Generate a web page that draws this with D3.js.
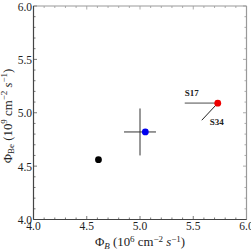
<!DOCTYPE html>
<html lang="en">
<head>
    <meta charset="UTF-8">
    <title>Phi_Be vs Phi_B</title>
    <style>
        body { margin: 0; padding: 0; background: #fff; }
        svg { display: block; }
        text { font-family: 'Liberation Serif', 'DejaVu Serif', serif; fill: #222; }
    </style>
</head>
<body>
    <svg width="251" height="251"></svg>
    <script src="https://d3js.org/d3.v7.min.js"></script>
    <script>
        // data
        const models = ["black", "blue", "red"];
        const phiB = [4.61, 5.05, 5.73];
        const phiBe = [4.56, 4.82, 5.09];
        const dotColors = ["#000000", "#0000ee", "#ee0000"];

        // measurement with error cross
        const measX = 5.0, measY = 4.82, errX = 0.15, errY = 0.22;

        // sensitivity arrows from the red point
        const arrowLabels = ["S17", "S34"];
        const arrowEndX = [5.42, 5.58];
        const arrowEndY = [5.09, 4.93];
        const arrowColors = ["#999", "#222"];

        const xTicks = [4.0, 4.5, 5.0, 5.5, 6.0];
        const yTicks = [4.0, 4.5, 5.0, 5.5, 6.0];

        const svg = d3.select("svg");
        const pL = 33.5, pR = 246.5, pT = 6, pB = 219.5;

        const x = d3.scaleLinear().domain([4, 6]).range([pL, pR]);
        const y = d3.scaleLinear().domain([4, 6]).range([pB, pT]);

        // minor + major ticks, inward on all four sides
        const minor = d3.range(4, 6.001, 0.1);
        const tk = svg.append("g").attr("stroke-width", 0.8);
        minor.forEach(v => {
            const isMajor = Math.abs(v * 2 - Math.round(v * 2)) < 1e-6;
            const len = isMajor ? 3.5 : 2;
            tk.append("line").attr("x1", x(v)).attr("x2", x(v)).attr("y1", pB).attr("y2", pB - len).attr("stroke", "#555");
            tk.append("line").attr("x1", x(v)).attr("x2", x(v)).attr("y1", pT).attr("y2", pT + len).attr("stroke", "#999");
            tk.append("line").attr("y1", y(v)).attr("y2", y(v)).attr("x1", pL).attr("x2", pL + len).attr("stroke", "#555");
            tk.append("line").attr("y1", y(v)).attr("y2", y(v)).attr("x1", pR).attr("x2", pR - len).attr("stroke", "#999");
        });

        // frame
        svg.append("line").attr("x1", pL).attr("x2", pR).attr("y1", pT).attr("y2", pT).attr("stroke", "#999").attr("stroke-width", 1.2);
        svg.append("line").attr("x1", pR).attr("x2", pR).attr("y1", pT).attr("y2", pB).attr("stroke", "#999").attr("stroke-width", 1.2);
        svg.append("line").attr("x1", pL).attr("x2", pR).attr("y1", pB).attr("y2", pB).attr("stroke", "#444").attr("stroke-width", 1.2);
        svg.append("line").attr("x1", pL).attr("x2", pL).attr("y1", pT).attr("y2", pB).attr("stroke", "#444").attr("stroke-width", 1.2);

        // tick labels
        svg.append("g").selectAll("text").data(xTicks).enter().append("text")
            .attr("x", d => x(d)).attr("y", pB + 10)
            .attr("text-anchor", "middle").attr("font-size", 11.5)
            .text(d => d.toFixed(1));
        svg.append("g").selectAll("text").data(yTicks).enter().append("text")
            .attr("x", pL - 1.5).attr("y", d => y(d) + 4.5)
            .attr("text-anchor", "end").attr("font-size", 11.5)
            .text(d => d.toFixed(1));

        // axis titles
        const xt = svg.append("text").attr("x", 140).attr("y", 246)
            .attr("text-anchor", "middle").attr("font-size", 12.8);
        xt.append("tspan").text("Φ");
        xt.append("tspan").attr("font-size", 9).attr("font-style", "italic").attr("dy", 2.5).text("B");
        xt.append("tspan").attr("dy", -2.5).text(" (10");
        xt.append("tspan").attr("font-size", 9).attr("dy", -4.5).text("6");
        xt.append("tspan").attr("dy", 4.5).text(" cm");
        xt.append("tspan").attr("font-size", 9).attr("dy", -4.5).text("−2");
        xt.append("tspan").attr("dy", 4.5).attr("font-style", "italic").text(" s");
        xt.append("tspan").attr("font-size", 9).attr("dy", -4.5).text("−1");
        xt.append("tspan").attr("dy", 4.5).text(")");

        const yt = svg.append("text").attr("transform", "translate(11.5,116) rotate(-90)")
            .attr("text-anchor", "middle").attr("font-size", 12.8);
        yt.append("tspan").text("Φ");
        yt.append("tspan").attr("font-size", 9).attr("dy", 2.5).text("Be");
        yt.append("tspan").attr("dy", -2.5).text(" (10");
        yt.append("tspan").attr("font-size", 9).attr("dy", -4.5).text("9");
        yt.append("tspan").attr("dy", 4.5).text(" cm");
        yt.append("tspan").attr("font-size", 9).attr("dy", -4.5).text("−2");
        yt.append("tspan").attr("dy", 4.5).attr("font-style", "italic").text(" s");
        yt.append("tspan").attr("font-size", 9).attr("dy", -4.5).text("−1");
        yt.append("tspan").attr("dy", 4.5).text(")");

        // error cross
        svg.append("line").attr("x1", x(measX - errX)).attr("x2", x(measX + errX))
            .attr("y1", y(measY)).attr("y2", y(measY)).attr("stroke", "#333").attr("stroke-width", 1);
        svg.append("line").attr("x1", x(measX)).attr("x2", x(measX))
            .attr("y1", y(measY - errY)).attr("y2", y(measY + errY)).attr("stroke", "#333").attr("stroke-width", 1);

        // arrows from red point
        arrowLabels.forEach((lab, i) => {
            svg.append("line").attr("x1", x(phiB[2])).attr("y1", y(phiBe[2]))
                .attr("x2", x(arrowEndX[i])).attr("y2", y(arrowEndY[i]))
                .attr("stroke", arrowColors[i]).attr("stroke-width", i === 0 ? 1.6 : 1);
        });
        svg.append("text").attr("x", x(arrowEndX[0])).attr("y", y(arrowEndY[0]) - 7)
            .attr("font-size", 9).attr("font-weight", "bold").text(arrowLabels[0]);
        svg.append("text").attr("x", x(arrowEndX[1]) + 8).attr("y", y(arrowEndY[1]) + 5)
            .attr("font-size", 9).attr("font-weight", "bold").text(arrowLabels[1]);

        // points
        svg.append("g").selectAll("circle").data(models).enter().append("circle")
            .attr("cx", (d, i) => x(phiB[i])).attr("cy", (d, i) => y(phiBe[i]))
            .attr("r", 3.4).attr("fill", (d, i) => dotColors[i]);
    </script>
</body>
</html>
